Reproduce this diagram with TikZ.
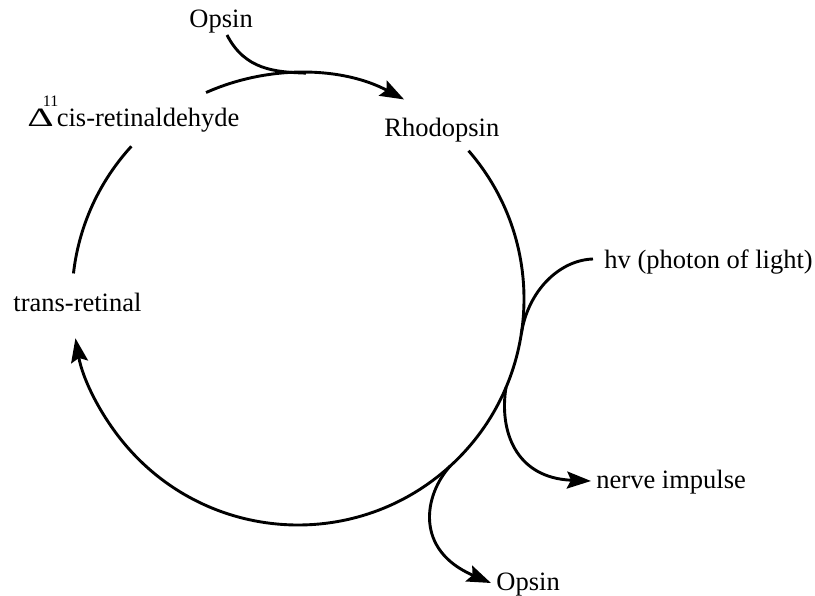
\documentclass[tikz,border=0pt]{standalone}
\usepackage{fontspec}
\setmainfont{Liberation Serif}
\usetikzlibrary{arrows.meta,calc}
\begin{document}
\begin{tikzpicture}[x=1pt,y=1pt,line width=2.9pt,
  lbl/.style={inner sep=0pt,anchor=base west,font=\fontsize{26.5}{32}\selectfont},
  tip/.style={-{Stealth[length=24pt,width=17pt,inset=4pt]}}]
\useasboundingbox (0,0) rectangle (815,-596);
\coordinate (C) at (298,-299);
% labels
\node[lbl] (opsinTop) at (188,-28) {Opsin};
\node[lbl] (cis) at (26,-127) {\scalebox{1.55}[1]{Δ}\rlap{\kern-11pt\raisebox{20pt}{\fontsize{16}{16}\selectfont 11}}\kern3pt cis-retinaldehyde};
\node[lbl] (rhod) at (383,-137) {Rhodopsin};
\node[lbl] (hv) at (603,-269) {hv (photon of light)};
\node[lbl] (trans) at (12,-312) {trans-retinal};
\node[lbl] (nerve) at (595,-488) {nerve impulse};
\node[lbl] (opsinBot) at (495,-590) {Opsin};
% points on the cycle
\coordinate (T1) at ($(C)+(114:226)$);
\coordinate (Tm) at ($(C)+(88:226)$);
\coordinate (R1) at ($(C)+(41:226)$);
\coordinate (Hm) at ($(C)+(-9:226)$);
\coordinate (Nb) at ($(C)+(-23:226)$);
\coordinate (Ob) at ($(C)+(-47.7:226)$);
\coordinate (L1) at ($(C)+(173.5:226)$);
% free ends
\coordinate (o1) at (227,-35);
\coordinate (h1) at (593,-259);
\coordinate (n1) at (591,-481);
\coordinate (b1) at (491,-583);
% cycle arcs
\draw[tip] (T1) arc[start angle=114,end angle=62,radius=226];
\draw[tip] (R1) arc[start angle=41,end angle=-170,radius=226];
\draw (L1) arc[start angle=173.5,end angle=137.5,radius=226];
% branches
\draw (o1) .. controls (245,-70) and (275,-72) .. (Tm);
\draw (h1) .. controls (560,-260) and (528,-290) .. (Hm);
\draw[tip] (Nb) .. controls (499,-430) and (515,-478) .. (n1);
\draw[tip] (Ob) .. controls (424,-495) and (414,-550) .. (b1);
\end{tikzpicture}
\end{document}
